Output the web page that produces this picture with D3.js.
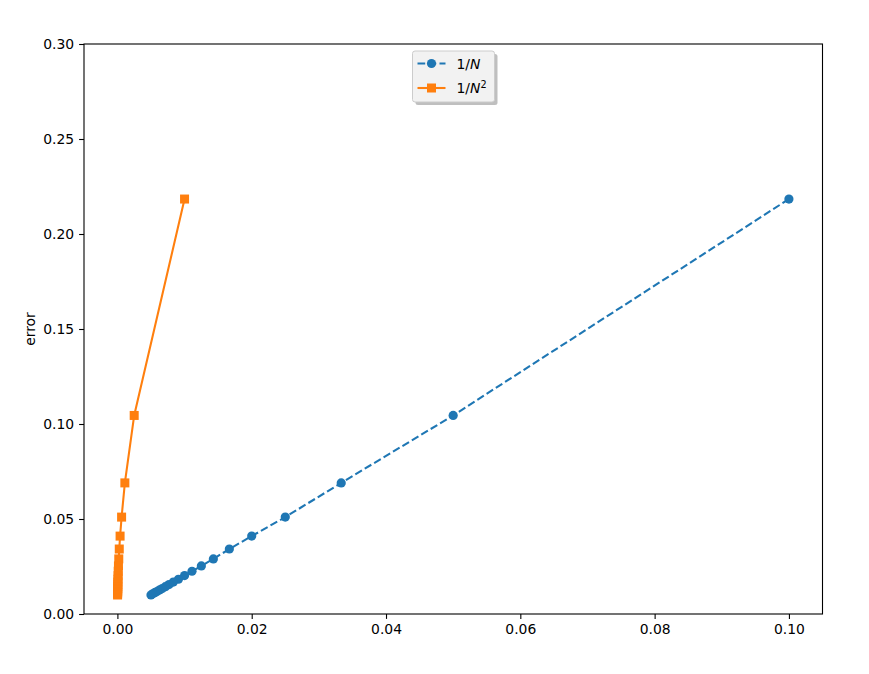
<!DOCTYPE html>
<html><head><meta charset="utf-8">
<script src="https://cdn.jsdelivr.net/npm/d3@7"></script>
<style>body{margin:0;background:#fff}svg{font-family:"DejaVu Sans",sans-serif}</style>
</head><body><svg id="c" width="869" height="674"></svg>
<script>
const invN = [0.1, 0.05, 0.03333, 0.025, 0.02, 0.01667, 0.01429, 0.0125, 0.01111, 0.01, 0.00909, 0.00833, 0.00769, 0.00714, 0.00667, 0.00625, 0.00588, 0.00556, 0.00526, 0.005];
const invN2 = [0.01, 0.0025, 0.001111, 0.000625, 0.0004, 0.000278, 0.000204, 0.000156, 0.000123, 0.0001, 0.0000826, 0.0000694, 0.0000592, 0.0000510, 0.0000444, 0.0000391, 0.0000346, 0.0000309, 0.0000277, 0.000025];
const errors = [0.2184, 0.1045, 0.0690, 0.0510, 0.0410, 0.0342, 0.0290, 0.0253, 0.0225, 0.0202, 0.0183, 0.0168, 0.0155, 0.0144, 0.0134, 0.0126, 0.0118, 0.0112, 0.0106, 0.0100];
const xTicks = [0, 0.02, 0.04, 0.06, 0.08, 0.10];
const yTicks = [0, 0.05, 0.10, 0.15, 0.20, 0.25, 0.30];
const seriesNames = ["1/N", "1/N2"];

const svg = d3.select("#c");
const L = 84, R = 822.5, T = 44, B = 614;
const x = d3.scaleLinear().domain([-0.004974, 0.104999]).range([L, R]);
const y = d3.scaleLinear().domain([0, 0.30]).range([B, T]);

const blue = "#1f77b4", orange = "#ff7f0e";
const MR = 4.6, MS = 9;

// axes
const xAxis = d3.axisBottom(x).tickValues(xTicks).tickFormat(d3.format(".2f")).tickSize(4.9).tickPadding(4.9);
const yAxis = d3.axisLeft(y).tickValues(yTicks).tickFormat(d3.format(".2f")).tickSize(4.9).tickPadding(4.9);
const gx = svg.append("g").attr("transform", `translate(0,${B})`).call(xAxis);
const gy = svg.append("g").attr("transform", `translate(${L},0)`).call(yAxis);
[gx, gy].forEach(g => {
  g.select(".domain").remove();
  g.selectAll("text").attr("font-size", 13.9).attr("fill", "#000").attr("font-family", "DejaVu Sans");
  g.selectAll("line").attr("stroke", "#000").attr("stroke-width", 1.1);
});

svg.append("text").attr("transform", `translate(35,${(T+B)/2}) rotate(-90)`)
  .attr("text-anchor", "middle").attr("font-size", 13.9).text("error");

// clip
svg.append("clipPath").attr("id", "clip").append("rect").attr("x", L).attr("y", T).attr("width", R-L).attr("height", B-T);
const plot = svg.append("g").attr("clip-path", "url(#clip)");

const line = d3.line().x(d => x(d[0])).y(d => y(d[1]));
const d1 = invN.map((v, i) => [v, errors[i]]);
const d2 = invN2.map((v, i) => [v, errors[i]]);

plot.append("path").datum(d1).attr("d", line).attr("fill", "none").attr("stroke", blue)
  .attr("stroke-width", 2.08).attr("stroke-dasharray", "7.7,3.3");
plot.selectAll(".c1").data(d1).enter().append("circle")
  .attr("cx", d => x(d[0])).attr("cy", d => y(d[1])).attr("r", MR).attr("fill", blue);

plot.append("path").datum(d2).attr("d", line).attr("fill", "none").attr("stroke", orange).attr("stroke-width", 2.08);
plot.selectAll(".s2").data(d2).enter().append("rect")
  .attr("x", d => x(d[0]) - MS/2).attr("y", d => y(d[1]) - MS/2).attr("width", MS).attr("height", MS).attr("fill", orange);

// frame
svg.append("rect").attr("x", L).attr("y", T).attr("width", R-L).attr("height", B-T)
  .attr("fill", "none").attr("stroke", "#000").attr("stroke-width", 1.1);

// legend
const lg = svg.append("g");
const lx = 412.5, ly = 51, lw = 82, lh = 51;
lg.append("rect").attr("x", lx+3).attr("y", ly+3).attr("width", lw).attr("height", lh).attr("rx", 2.5)
  .attr("fill", "#808080").attr("opacity", 0.5);
lg.append("rect").attr("x", lx).attr("y", ly).attr("width", lw).attr("height", lh).attr("rx", 2.5)
  .attr("fill", "#f2f2f2").attr("stroke", "#cccccc").attr("stroke-width", 1);
const rows = [ly + 12.5, ly + 37];
// row 1
lg.append("line").attr("x1", lx+5).attr("x2", lx+33).attr("y1", rows[0]).attr("y2", rows[0])
  .attr("stroke", blue).attr("stroke-width", 2.08).attr("stroke-dasharray", "7.7,3.3");
lg.append("circle").attr("cx", lx+19).attr("cy", rows[0]).attr("r", MR).attr("fill", blue);
const t1 = lg.append("text").attr("x", lx+44).attr("y", rows[0]+5).attr("font-size", 13.9);
t1.append("tspan").text("1/");
t1.append("tspan").attr("font-style", "italic").text("N");
// row 2
lg.append("line").attr("x1", lx+5).attr("x2", lx+33).attr("y1", rows[1]).attr("y2", rows[1])
  .attr("stroke", orange).attr("stroke-width", 2.08);
lg.append("rect").attr("x", lx+19-MS/2).attr("y", rows[1]-MS/2).attr("width", MS).attr("height", MS).attr("fill", orange);
const t2 = lg.append("text").attr("x", lx+44).attr("y", rows[1]+5).attr("font-size", 13.9);
t2.append("tspan").text("1/");
t2.append("tspan").attr("font-style", "italic").text("N");
t2.append("tspan").attr("font-size", 9.7).attr("dy", -5.5).text("2");
</script></body></html>
